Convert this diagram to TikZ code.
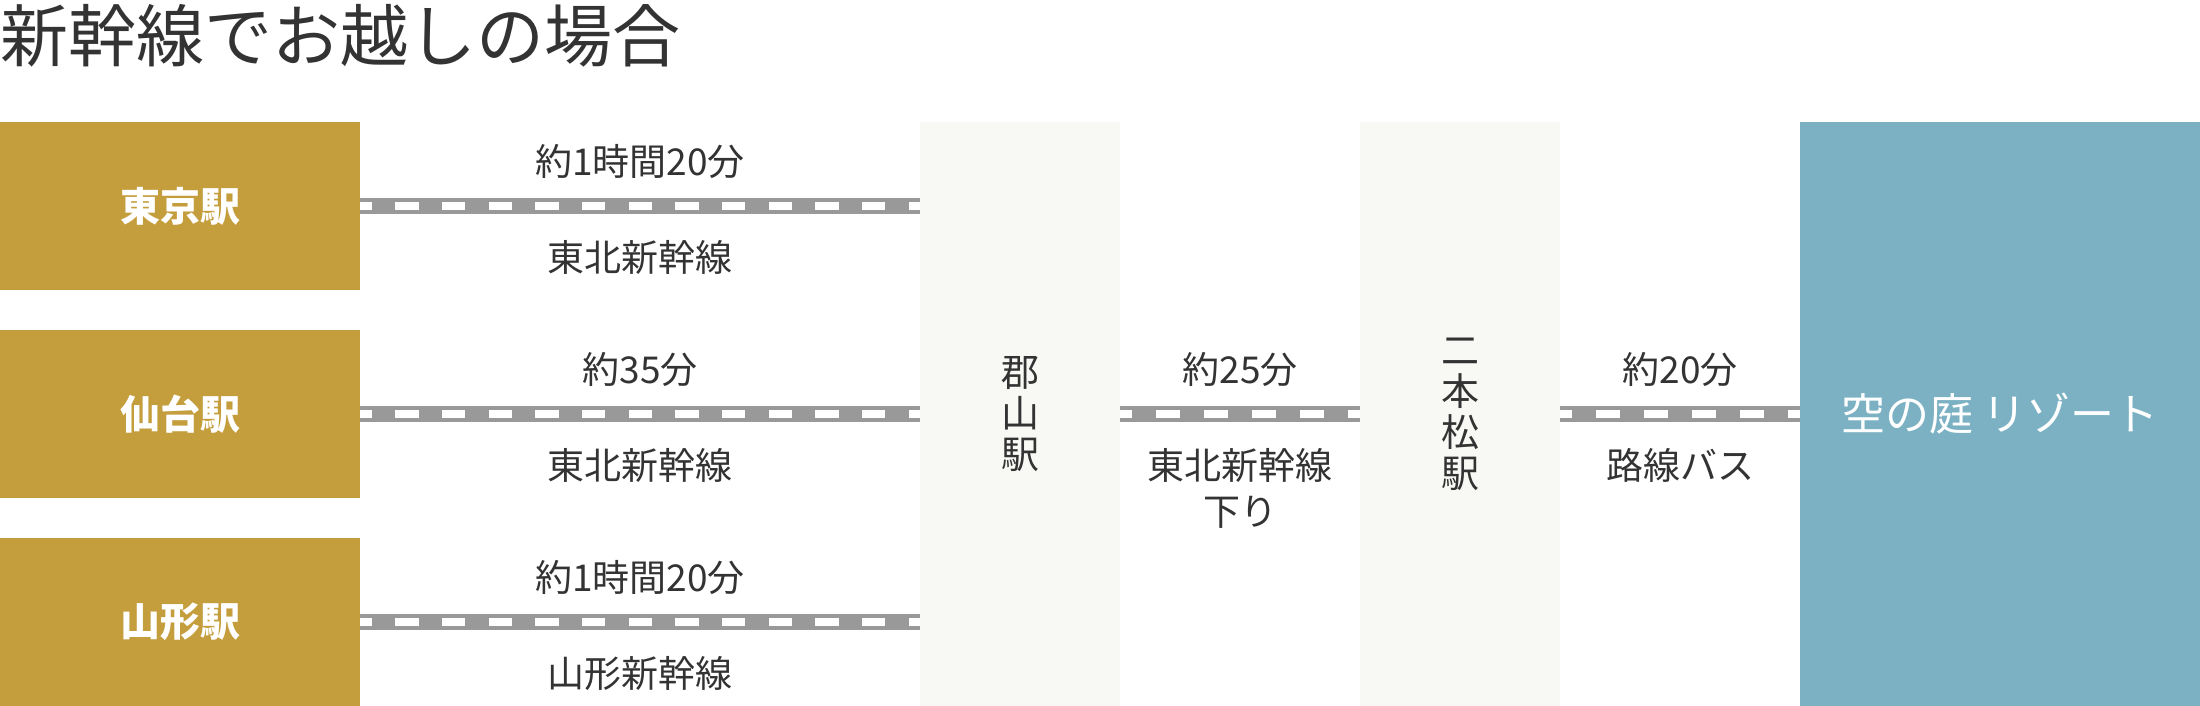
\documentclass[tikz,border=0pt]{standalone}
\usepackage{fontspec}
\setmainfont{Noto Sans CJK JP}
\usetikzlibrary{calc}
\definecolor{gold}{HTML}{C49D3C}
\definecolor{paleside}{HTML}{F8F9F4}
\definecolor{skyblue}{HTML}{7BB1C3}
\definecolor{railgray}{HTML}{999999}
\definecolor{ink}{HTML}{333333}

\begin{document}
\begin{tikzpicture}[x=0.5pt,y=-0.5pt,
		station/.style={fill=gold, text=white, inner sep=0pt, minimum width=180pt, minimum height=84pt, font=\fontsize{20}{24}\selectfont\bfseries},
		stop/.style={fill=paleside, text=ink, inner sep=0pt, minimum width=100pt, minimum height=292pt, align=center, font=\fontsize{19}{20.5}\selectfont},
		track/.style 2 args={draw=railgray, line width=8pt, postaction={draw=white, line width=4pt, dash pattern=on #1 off #1, dash phase=#2}},
		note/.style={text=ink, inner sep=0pt, align=center, font=\fontsize{18.5}{23}\selectfont}]
		\useasboundingbox (0,0) rectangle (2200,706);
		\node[anchor=north west, inner sep=0pt, text=ink, font=\fontsize{34}{38}\selectfont] (title) at (0,4) {新幹線でお越しの場合};
		\node[station] (tokyo) at (180,206) {東京駅};
		\node[station] (sendai) at (180,414) {仙台駅};
		\node[station] (yamagata) at (180,622) {山形駅};
		\node[stop] (koriyama) at (1020,414) {郡\\山\\駅};
		\node[stop] (nihonmatsu) at (1460,414) {二\\本\\松\\駅};
		\node[fill=skyblue, text=white, inner sep=0pt, minimum width=200pt, minimum height=292pt, font=\fontsize{22}{24}\selectfont] (resort) at (2000,414) {空の庭 リゾート};
		\draw[track={11.667pt}{5.833pt}] (tokyo.east) -- (tokyo.east -| koriyama.west)
			node[note, midway, above=9.5pt] {約1時間20分}
			node[note, midway, below=13pt] {東北新幹線};
		\draw[track={11.667pt}{5.833pt}] (sendai.east) -- (sendai.east -| koriyama.west)
			node[note, midway, above=9.5pt] {約35分}
			node[note, midway, below=13pt] {東北新幹線};
		\draw[track={11.667pt}{5.833pt}] (yamagata.east) -- (yamagata.east -| koriyama.west)
			node[note, midway, above=9.5pt] {約1時間20分}
			node[note, midway, below=13pt] {山形新幹線};
		\draw[track={12pt}{6pt}] (koriyama) -- (nihonmatsu)
			node[note, midway, above=9.5pt] {約25分}
			node[note, midway, below=13pt] {東北新幹線\\下り};
		\draw[track={12pt}{6pt}] (nihonmatsu) -- (resort)
			node[note, midway, above=9.5pt] {約20分}
			node[note, midway, below=13pt] {路線バス};
	\end{tikzpicture}
\end{document}
